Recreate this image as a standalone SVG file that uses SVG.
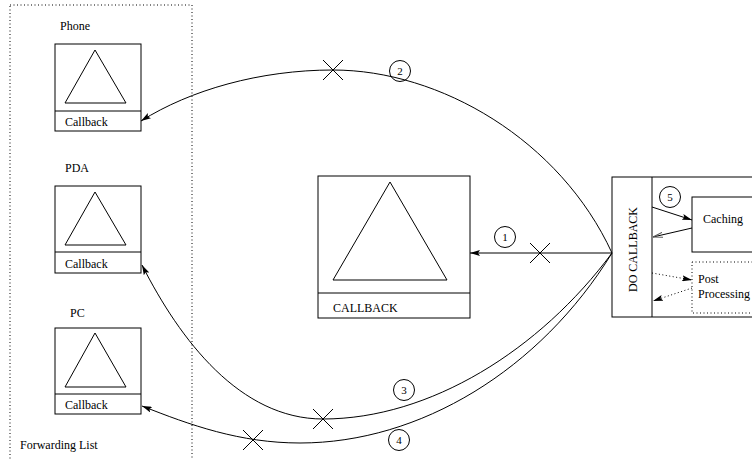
<svg xmlns="http://www.w3.org/2000/svg" width="752" height="459" viewBox="0 0 752 459">
<style>
text{font-family:"Liberation Serif","Times New Roman",serif;font-size:12px;fill:#000}
.b{fill:#fff;stroke:#000;stroke-width:1}
.l{fill:none;stroke:#000;stroke-width:1}
.d{fill:none;stroke:#000;stroke-width:1;stroke-dasharray:1 2.5}
.n{font-size:11px;text-anchor:middle}
</style>
<defs>
<marker id="ah" viewBox="0 0 10 6" refX="10" refY="3" markerWidth="10" markerHeight="6" markerUnits="userSpaceOnUse" orient="auto">
<path d="M0,0 L10,3 L0,6 L2,3 z" fill="#000"/>
</marker>
<marker id="ao" viewBox="0 0 10 6" refX="10" refY="3" markerWidth="10" markerHeight="6" markerUnits="userSpaceOnUse" orient="auto">
<path d="M0,0.5 L10,3 L0,5.5" fill="none" stroke="#555" stroke-width="1"/>
</marker>
<g id="xm"><path d="M-10,-10 L10,10 M-10,10 L10,-10" class="l"/></g>
</defs>
<rect width="752" height="459" fill="#fff"/>

<g id="forwarding-list">
<rect x="10" y="5" width="182" height="470" class="d"/>
<text x="20" y="449">Forwarding List</text>
</g>

<g id="phone">
<text x="60" y="30">Phone</text>
<rect x="55" y="44" width="86" height="87" class="b"/>
<line x1="55" y1="111" x2="141" y2="111" class="l"/>
<path d="M95,50 L126,103 L65,103 z" class="l"/>
<text x="65" y="126">Callback</text>
</g>

<g id="pda">
<text x="65" y="172">PDA</text>
<rect x="55" y="186" width="86" height="87" class="b"/>
<line x1="55" y1="252" x2="141" y2="252" class="l"/>
<path d="M95,192 L126,245 L65,245 z" class="l"/>
<text x="65" y="268">Callback</text>
</g>

<g id="pc">
<text x="70" y="317">PC</text>
<rect x="55" y="328" width="86" height="86" class="b"/>
<line x1="55" y1="394" x2="141" y2="394" class="l"/>
<path d="M95,333 L126,387 L65,387 z" class="l"/>
<text x="65" y="409">Callback</text>
</g>

<g id="callback">
<rect x="318" y="176" width="152" height="142" class="b"/>
<line x1="318" y1="293" x2="470" y2="293" class="l"/>
<path d="M390,182 L447,280 L333,280 z" class="l"/>
<text x="333" y="312">CALLBACK</text>
</g>

<g id="do-callback">
<rect x="612" y="177" width="150" height="140" class="b"/>
<line x1="652" y1="177" x2="652" y2="317" class="l"/>
<text transform="translate(637,249.5) rotate(-90)" text-anchor="middle">DO CALLBACK</text>
</g>

<g id="caching">
<rect x="692" y="197" width="70" height="55" class="b"/>
<text x="703" y="223">Caching</text>
</g>

<g id="post-processing">
<rect x="692" y="262" width="70" height="51" class="d"/>
<text x="698" y="283">Post</text>
<text x="698" y="298">Processing</text>
</g>

<g id="connectors">
<line x1="612" y1="253" x2="470" y2="253" class="l" marker-end="url(#ah)"/>
<path d="M612,253 C560,140 440,70 333,70 C260,70 190,90 141,121" class="l" marker-end="url(#ah)"/>
<path d="M612,253 C540,350 430,419 323,419 C240,419 180,340 142,265" class="l" marker-end="url(#ah)"/>
<path d="M612,253 C540,370 420,443 300,443 C240,443 190,425 142,406" class="l" marker-end="url(#ah)"/>
<line x1="652" y1="207" x2="692" y2="220" class="l" marker-end="url(#ah)"/>
<line x1="692" y1="228" x2="653" y2="237" class="l" marker-end="url(#ao)"/>
<line x1="652" y1="273" x2="692" y2="280" class="d" marker-end="url(#ah)"/>
<line x1="692" y1="288" x2="653" y2="301" class="d" marker-end="url(#ah)"/>
<use href="#xm" x="540" y="253"/>
<use href="#xm" x="333" y="70"/>
<use href="#xm" x="323" y="419"/>
<use href="#xm" x="253" y="440"/>
</g>

<g id="labels">
<circle cx="505" cy="237" r="10.5" class="b"/><text x="505" y="241" class="n">1</text>
<circle cx="400" cy="71" r="10.5" class="b" fill-opacity="0"/><text x="400" y="75" class="n">2</text>
<circle cx="404" cy="390" r="10.5" class="b"/><text x="404" y="394" class="n">3</text>
<circle cx="399" cy="440" r="10.5" class="b"/><text x="399" y="444" class="n">4</text>
<circle cx="670" cy="197" r="10.5" class="b"/><text x="670" y="201" class="n">5</text>
</g>
</svg>
